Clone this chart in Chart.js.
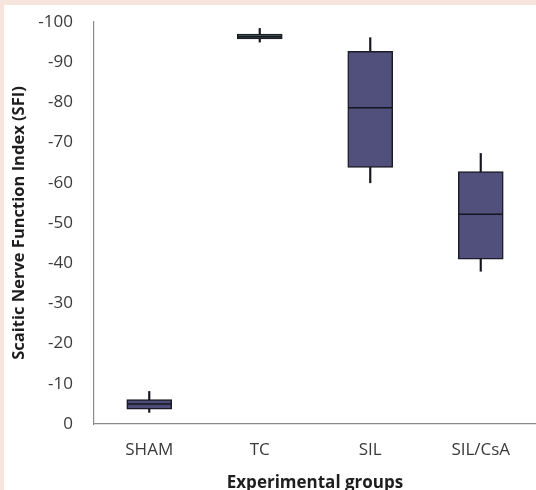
<!DOCTYPE html>
<html>
<head>
<meta charset="utf-8">
<script src="https://cdn.jsdelivr.net/npm/chart.js@4.4.1/dist/chart.umd.min.js"></script>
<style>
  html, body { margin: 0; padding: 0; }
  body { width: 536px; height: 490px; background: #f7e4dc; position: relative; overflow: hidden; }
  #wrap { position: absolute; left: 4px; top: 5px; width: 532px; height: 485px; background: #ffffff; }
</style>
</head>
<body>
<div id="wrap"><canvas id="chart-sfi" width="532" height="485"></canvas></div>
<script>
// box plot: SFI per experimental group
var groups = ["SHAM", "TC", "SIL", "SIL/CsA"];
var whiskerLow = [-2.9, -95.0, -60.0, -38.0];
var quartile1 = [-3.7, -95.8, -63.8, -41.0];
var medians = [-5.0, -96.3, -78.7, -52.2];
var quartile3 = [-6.1, -97.0, -92.7, -62.8];
var whiskerHigh = [-8.1, -98.4, -96.1, -67.3];
var yTicks = [0, -10, -20, -30, -40, -50, -60, -70, -80, -90, -100];

var boxColours = ["#4d4c76", "#4a6a5f", "#51507c", "#51507c"];

var boxes = groups.map(function (g, i) { return [quartile1[i], quartile3[i]]; });
var whiskers = groups.map(function (g, i) { return [whiskerLow[i], whiskerHigh[i]]; });

Chart.defaults.font.family = "'Open Sans', sans-serif";
Chart.defaults.color = "#404040";

new Chart(document.getElementById("chart-sfi"), {
  type: "bar",
  data: {
    labels: groups,
    datasets: [
      {
        type: "line",
        label: "Median",
        data: medians,
        showLine: false,
        pointStyle: "line",
        pointRadius: 22,
        pointHoverRadius: 22,
        borderColor: "#15151f",
        pointBorderWidth: 1.5,
        order: 0,
      },
      {
        label: "IQR",
        data: boxes,
        backgroundColor: boxColours,
        borderColor: "#1b1b28",
        borderWidth: 1.5,
        borderSkipped: false,
        barThickness: 45,
        grouped: false,
        order: 1,
      },
      {
        label: "Range",
        data: whiskers,
        backgroundColor: "#15151f",
        borderWidth: 0,
        barThickness: 1.5,
        grouped: false,
        order: 2,
      },
    ],
  },
  options: {
    responsive: false,
    animation: false,
    layout: { autoPadding: false, padding: { top: 17, left: 0, right: 0, bottom: 0 } },
    plugins: {
      legend: { display: false },
      tooltip: { enabled: false },
    },
    scales: {
      x: {
        grid: { display: false, drawTicks: false },
        border: { display: true, color: "#8a8a8a", width: 1.2 },
        ticks: { padding: 16, font: { size: 17 }, color: "#3a3a3a" },
        title: {
          display: true,
          text: "Experimental groups",
          font: { size: 17, weight: "bold" },
          color: "#1e1e1e",
          padding: { top: 0, bottom: -3 },
        },
        afterFit: function (scale) {
          scale.height = 66;
          scale.paddingLeft = 0;
          scale.paddingRight = 0;
        },
      },
      y: {
        reverse: true,
        min: -100,
        max: 0,
        grid: { display: false, drawTicks: false },
        border: { display: true, color: "#8a8a8a", width: 1.2 },
        afterBuildTicks: function (scale) {
          scale.ticks = yTicks.map(function (v) { return { value: v }; });
        },
        ticks: { padding: 21, font: { size: 17 }, color: "#3a3a3a" },
        title: {
          display: true,
          text: "Scaitic Nerve Function Index (SFI)",
          font: { size: 16.5, weight: "bold" },
          color: "#1e1e1e",
          padding: { top: 5, bottom: 0 },
        },
        afterFit: function (scale) {
          scale.width = 90;
          scale.paddingTop = 0;
          scale.paddingBottom = 0;
        },
      },
    },
  },
});
</script>
</body>
</html>
